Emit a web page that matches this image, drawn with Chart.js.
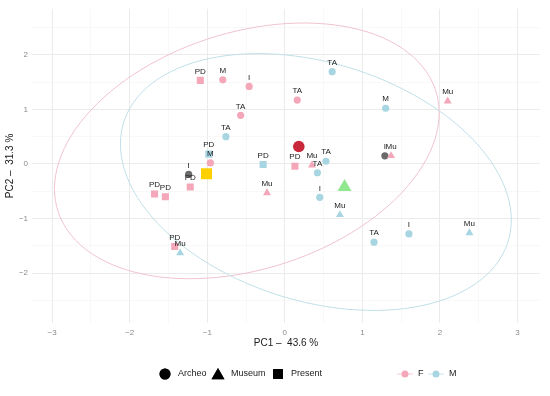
<!DOCTYPE html>
<html>
<head>
<meta charset="utf-8">
<script src="https://cdn.jsdelivr.net/npm/chart.js@4"></script>
<style>
  html, body { margin: 0; padding: 0; background: #fff; }
</style>
</head>
<body>
<canvas id="chartPCA" width="550" height="396"></canvas>
<script>
// ---- data ----
const fArcheoLabels = ["M", "I", "TA", "TA", "M"];
const fArcheoX = [-0.80, -0.46, 0.16, -0.57, -0.96];
const fArcheoY = [1.54, 1.42, 1.17, 0.89, 0.02];

const fMuseumLabels = ["Mu", "Mu", "Mu", "Mu"];
const fMuseumX = [2.10, 1.37, 0.35, -0.23];
const fMuseumY = [1.15, 0.15, -0.02, -0.53];

const fPresentLabels = ["PD", "PD", "PD", "PD", "PD", "PD"];
const fPresentX = [-1.09, 0.13, -1.22, -1.68, -1.54, -1.42];
const fPresentY = [1.53, -0.04, -0.42, -0.55, -0.60, -1.51];

const mArcheoLabels = ["TA", "M", "TA", "TA", "TA", "I", "TA", "I"];
const mArcheoX = [0.61, 1.30, -0.76, 0.53, 0.42, 0.45, 1.15, 1.60];
const mArcheoY = [1.69, 1.02, 0.50, 0.05, -0.16, -0.61, -1.43, -1.28];

const mMuseumLabels = ["Mu", "Mu", "Mu"];
const mMuseumX = [0.71, 2.38, -1.35];
const mMuseumY = [-0.93, -1.26, -1.63];

const mPresentLabels = ["PD", "PD"];
const mPresentX = [-0.98, -0.28];
const mPresentY = [0.18, -0.01];

const naArcheoLabels = ["I", "I"];
const naArcheoX = [-1.24, 1.29];
const naArcheoY = [-0.19, 0.15];

// group centroids: Archeo, Museum, Present
const centroidX = [0.18, 0.77, -1.01];
const centroidY = [0.32, -0.42, -0.18];

// 95% ellipses: centre x, centre y, half width, half height, coupling
const ellipseF = [-0.49, 0.24, 2.48, 2.34, 1.72];
const ellipseM = [0.40, -0.33, 2.52, 2.35, -1.75];

const legendShapes = ["Archeo", "Museum", "Present"];
const legendSex = ["F", "M"];

// ---- colours ----
const PINK = "#F4A7B9";
const BLUE = "#A8D5E2";
const GREY = "#6B6B6B";
const FONT = "'Liberation Sans', Arial, sans-serif";

function pts(xs, ys) {
  return xs.map((x, i) => ({ x: x, y: ys[i] }));
}

function serie(xs, ys, labels, color, shape, r) {
  return {
    data: pts(xs, ys),
    labels: labels,
    pointStyle: shape,
    pointRadius: r,
    pointHoverRadius: r,
    backgroundColor: color,
    borderWidth: 0,
    showLine: false
  };
}

const fmt = v => String(v).replace("-", "\u2212");
const isMajor = v => Math.abs(v - Math.round(v)) < 1e-6;

// ellipses, drawn under the points
const ellipsePlugin = {
  id: "ellipses",
  beforeDatasetsDraw(chart) {
    const { ctx, scales } = chart;
    const draw = (e, color) => {
      const [cx, cy, w, h, c] = e;
      const k = c / w;
      const s = Math.sqrt(h * h - k * k);
      ctx.save();
      ctx.strokeStyle = color;
      ctx.lineWidth = 1;
      ctx.beginPath();
      for (let i = 0; i <= 120; i++) {
        const t = (i / 120) * Math.PI * 2;
        const px = scales.x.getPixelForValue(cx + w * Math.cos(t));
        const py = scales.y.getPixelForValue(cy + k * Math.cos(t) + s * Math.sin(t));
        if (i === 0) ctx.moveTo(px, py); else ctx.lineTo(px, py);
      }
      ctx.stroke();
      ctx.restore();
    };
    draw(ellipseF, "#F1C3CD");
    draw(ellipseM, "#BFE0E8");
  }
};

// text labels above the points
const labelPlugin = {
  id: "pointLabels",
  afterDatasetsDraw(chart) {
    const { ctx } = chart;
    ctx.save();
    ctx.font = "8px " + FONT;
    ctx.fillStyle = "#1a1a1a";
    ctx.textAlign = "center";
    ctx.textBaseline = "middle";
    chart.data.datasets.forEach((ds, i) => {
      if (!ds.labels) return;
      const meta = chart.getDatasetMeta(i);
      meta.data.forEach((el, j) => {
        ctx.fillText(ds.labels[j], el.x, el.y - 9);
      });
    });
    ctx.restore();
  }
};

// legend at the bottom
const legendPlugin = {
  id: "bottomLegend",
  afterDraw(chart) {
    const { ctx } = chart;
    const y = 374;
    ctx.save();
    ctx.font = "9px " + FONT;
    ctx.textBaseline = "middle";
    ctx.textAlign = "left";

    const shapeX = [165, 218, 278];
    const shapes = ["circle", "triangle", "rect"];
    const sizes = [5.5, 7.5, 7];
    legendShapes.forEach((name, i) => {
      Chart.helpers.drawPoint(ctx, {
        pointStyle: shapes[i], radius: sizes[i], rotation: 0
      }, shapeX[i], y + (shapes[i] === "triangle" ? 1.5 : 0));
      ctx.fillStyle = "#000";
      ctx.fill();
      ctx.fillStyle = "#222";
      ctx.fillText(name, shapeX[i] + 13, y);
    });

    const sexX = [405, 436];
    const sexCol = [PINK, BLUE];
    legendSex.forEach((name, i) => {
      ctx.strokeStyle = sexCol[i];
      ctx.globalAlpha = 0.6;
      ctx.lineWidth = 1;
      ctx.beginPath();
      ctx.moveTo(sexX[i] - 8, y);
      ctx.lineTo(sexX[i] + 8, y);
      ctx.stroke();
      ctx.globalAlpha = 1;
      ctx.beginPath();
      ctx.arc(sexX[i], y, 3.5, 0, Math.PI * 2);
      ctx.fillStyle = sexCol[i];
      ctx.fill();
      ctx.fillStyle = "#222";
      ctx.fillText(name, sexX[i] + 13, y);
    });
    ctx.restore();
  }
};

const gridOpts = {
  drawTicks: false,
  color: c => isMajor(c.tick.value) ? "#EBEBEB" : "#F4F4F4",
  lineWidth: c => isMajor(c.tick.value) ? 1 : 0.6
};

new Chart(document.getElementById("chartPCA"), {
  type: "scatter",
  data: {
    datasets: [
      serie(fArcheoX, fArcheoY, fArcheoLabels, PINK, "circle", 3.6),
      serie(fMuseumX, fMuseumY, fMuseumLabels, PINK, "triangle", 4.6),
      serie(fPresentX, fPresentY, fPresentLabels, PINK, "rect", 5),
      serie(mArcheoX, mArcheoY, mArcheoLabels, BLUE, "circle", 3.6),
      serie(mMuseumX, mMuseumY, mMuseumLabels, BLUE, "triangle", 4.6),
      serie(mPresentX, mPresentY, mPresentLabels, BLUE, "rect", 5),
      serie(naArcheoX, naArcheoY, naArcheoLabels, GREY, "circle", 3.6),
      serie([centroidX[0]], [centroidY[0]], null, "#C8283A", "circle", 5.8),
      serie([centroidX[1]], [centroidY[1]], null, "#8FE88F", "triangle", 8),
      serie([centroidX[2]], [centroidY[2]], null, "#FFD000", "rect", 7.8)
    ]
  },
  options: {
    responsive: false,
    animation: false,
    events: [],
    layout: { padding: { top: 7, right: 10, bottom: 43, left: 0 } },
    plugins: {
      legend: { display: false },
      tooltip: { enabled: false }
    },
    scales: {
      x: {
        type: "linear",
        min: -3.26,
        max: 3.29,
        afterFit: s => { s.height = 30; },
        border: { display: false },
        grid: gridOpts,
        ticks: {
          stepSize: 0.5,
          includeBounds: false,
          autoSkip: false,
          maxRotation: 0,
          padding: 5,
          color: "#8a8a8a",
          font: { family: FONT, size: 8 },
          callback: v => isMajor(v) ? fmt(Math.round(v)) : ""
        },
        title: {
          display: true,
          text: "PC1 \u2013  43.6 %",
          color: "#1a1a1a",
          font: { family: FONT, size: 10 },
          padding: { top: 0, bottom: 4 }
        }
      },
      y: {
        type: "linear",
        min: -2.91,
        max: 2.84,
        afterFit: s => { s.width = 32; },
        border: { display: false },
        grid: gridOpts,
        ticks: {
          stepSize: 0.5,
          includeBounds: false,
          autoSkip: false,
          padding: 4,
          color: "#8a8a8a",
          font: { family: FONT, size: 8 },
          callback: v => isMajor(v) ? fmt(Math.round(v)) : ""
        },
        title: {
          display: true,
          text: "PC2 \u2013  31.3 %",
          color: "#1a1a1a",
          font: { family: FONT, size: 10 },
          padding: { top: 4, bottom: 0 }
        }
      }
    }
  },
  plugins: [ellipsePlugin, labelPlugin, legendPlugin]
});
</script>
</body>
</html>
